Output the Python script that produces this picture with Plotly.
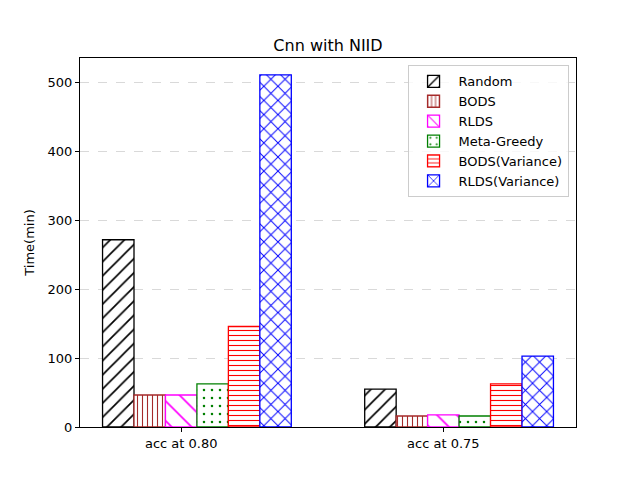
import plotly.graph_objects as go

groups = ["acc at 0.80", "acc at 0.75"]
methods = ["Random", "BODS", "RLDS", "Meta-Greedy", "BODS(Variance)", "RLDS(Variance)"]
random_vals = [272, 55]
bods_vals = [46.5, 16]
rlds_vals = [46.5, 17.5]
meta_greedy_vals = [62.5, 16]
bods_var_vals = [146, 62.5]
rlds_var_vals = [511.5, 103]

series = [random_vals, bods_vals, rlds_vals, meta_greedy_vals, bods_var_vals, rlds_var_vals]
colors = ["black", "#a52a2a", "magenta", "green", "red", "blue"]
shapes = ["/", "|", "\\", ".", "-", "x"]
sizes = [10, 5, 14, 8, 5, 10]
solid = [0.17, 0.22, 0.12, 0.08, 0.22, 0.18]

BAR_W = 0.12
pos = list(range(len(groups)))

fig = go.Figure()
for i, name in enumerate(methods):
    fig.add_trace(go.Bar(
        x=pos, y=series[i], name=name,
        width=BAR_W, offset=-2.5 * BAR_W + i * BAR_W,
        marker=dict(
            color="white",
            line=dict(color=colors[i], width=1.3),
            pattern=dict(shape=shapes[i], fgcolor=colors[i], bgcolor="white",
                         size=sizes[i], solidity=solid[i], fillmode="overlay",
                         fgopacity=1),
        ),
    ))

fig.update_layout(
    width=632, height=472,
    margin=dict(l=72, r=64, t=50, b=53),
    paper_bgcolor="white", plot_bgcolor="white",
    font=dict(family="DejaVu Sans", size=13, color="black"),
    title=dict(text="Cnn with NIID", x=0.5, xref="paper", y=1, yref="paper",
               yanchor="bottom", pad=dict(b=7), font=dict(size=16)),
    barmode="overlay",
    showlegend=True,
    legend=dict(x=0.985, y=0.98, xanchor="right", yanchor="top",
                bgcolor="rgba(255,255,255,0.8)", bordercolor="#cccccc", borderwidth=1,
                font=dict(size=13), tracegroupgap=0, itemwidth=40),
    xaxis=dict(range=[-0.386, 1.506], tickvals=pos, ticktext=groups,
               showline=True, mirror=True, linecolor="black", linewidth=1,
               ticks="outside", ticklen=4, tickcolor="black", showgrid=False, zeroline=False),
    yaxis=dict(range=[0, 536], tickvals=[0, 100, 200, 300, 400, 500],
               title=dict(text="Time(min)", standoff=10, font=dict(size=13)),
               showline=True, mirror=True, linecolor="black", linewidth=1,
               ticks="outside", ticklen=4, tickcolor="black",
               showgrid=True, gridcolor="#d9d9d9", griddash="dash", gridwidth=0.8,
               zeroline=False),
)

fig.write_html("out.html")
